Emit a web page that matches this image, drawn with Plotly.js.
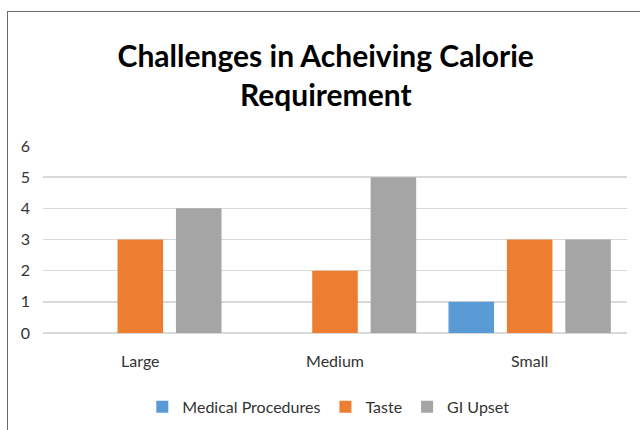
<!DOCTYPE html>
<html>
<head>
<meta charset="utf-8">
<script src="https://cdn.plot.ly/plotly-3.0.1.min.js"></script>
<style>
html,body{margin:0;padding:0;background:#fff;}
#wrap{position:relative;width:640px;height:430px;overflow:hidden;}
#chart{position:absolute;left:0;top:0;width:640px;height:430px;}
#frame{position:absolute;left:7px;top:11px;width:700px;height:500px;border-left:1.5px solid #6a6a6a;border-top:1.5px solid #6a6a6a;pointer-events:none;}
</style>
</head>
<body>
<div id="wrap"><div id="chart"></div><div id="frame"></div></div>
<script>
const categories = ["Large", "Medium", "Small"];
const seriesNames = ["Medical Procedures", "Taste", "GI Upset"];
const medicalProcedures = [0, 0, 1];
const taste = [3, 2, 3];
const giUpset = [4, 5, 3];
const yTicks = [0, 1, 2, 3, 4, 5, 6];
const colors = ["#5B9BD5", "#ED7D31", "#A5A5A5"];
const values = [medicalProcedures, taste, giUpset];

const traces = values.map((v, i) => ({
  type: "bar",
  name: seriesNames[i],
  x: categories,
  y: v,
  marker: {color: colors[i]},
  hoverinfo: "skip"
}));

const fontFam = "Lato, 'Liberation Sans', sans-serif";
const layout = {
  width: 640, height: 430,
  margin: {l: 43, r: 13, t: 146, b: 97},
  paper_bgcolor: "#ffffff",
  plot_bgcolor: "#ffffff",
  barmode: "group",
  bargap: 0.1,
  bargroupgap: 0.22,
  title: {
    text: "<b>Challenges in Acheiving Calorie<br>Requirement</b>",
    font: {family: fontFam, size: 30, color: "#000000"},
    x: 0.509, xanchor: "center",
    y: 0.845, yanchor: "middle", yref: "container"
  },
  xaxis: {
    type: "category",
    showgrid: false,
    showline: false,
    zeroline: false,
    ticks: "",
    ticklabelstandoff: 17,
    tickfont: {family: fontFam, size: 16, color: "#333333"}
  },
  yaxis: {
    range: [0, 6],
    tickvals: yTicks,
    ticktext: yTicks.map(String),
    showgrid: true,
    gridcolor: "#D9D9D9",
    gridwidth: 1.5,
    zeroline: true,
    zerolinecolor: "#D9D9D9",
    zerolinewidth: 1.5,
    showline: false,
    ticks: "",
    ticklabelstandoff: 12,
    tickfont: {family: fontFam, size: 16, color: "#333333"}
  },
  showlegend: true,
  legend: {
    orientation: "h",
    x: 0.513, xanchor: "center", xref: "container",
    y: 0.054, yanchor: "middle", yref: "container",
    font: {family: fontFam, size: 16, color: "#333333"},
    traceorder: "normal",
    itemclick: false
  }
};

Plotly.newPlot("chart", traces, layout, {displayModeBar: false, staticPlot: true});
</script>
</body>
</html>
